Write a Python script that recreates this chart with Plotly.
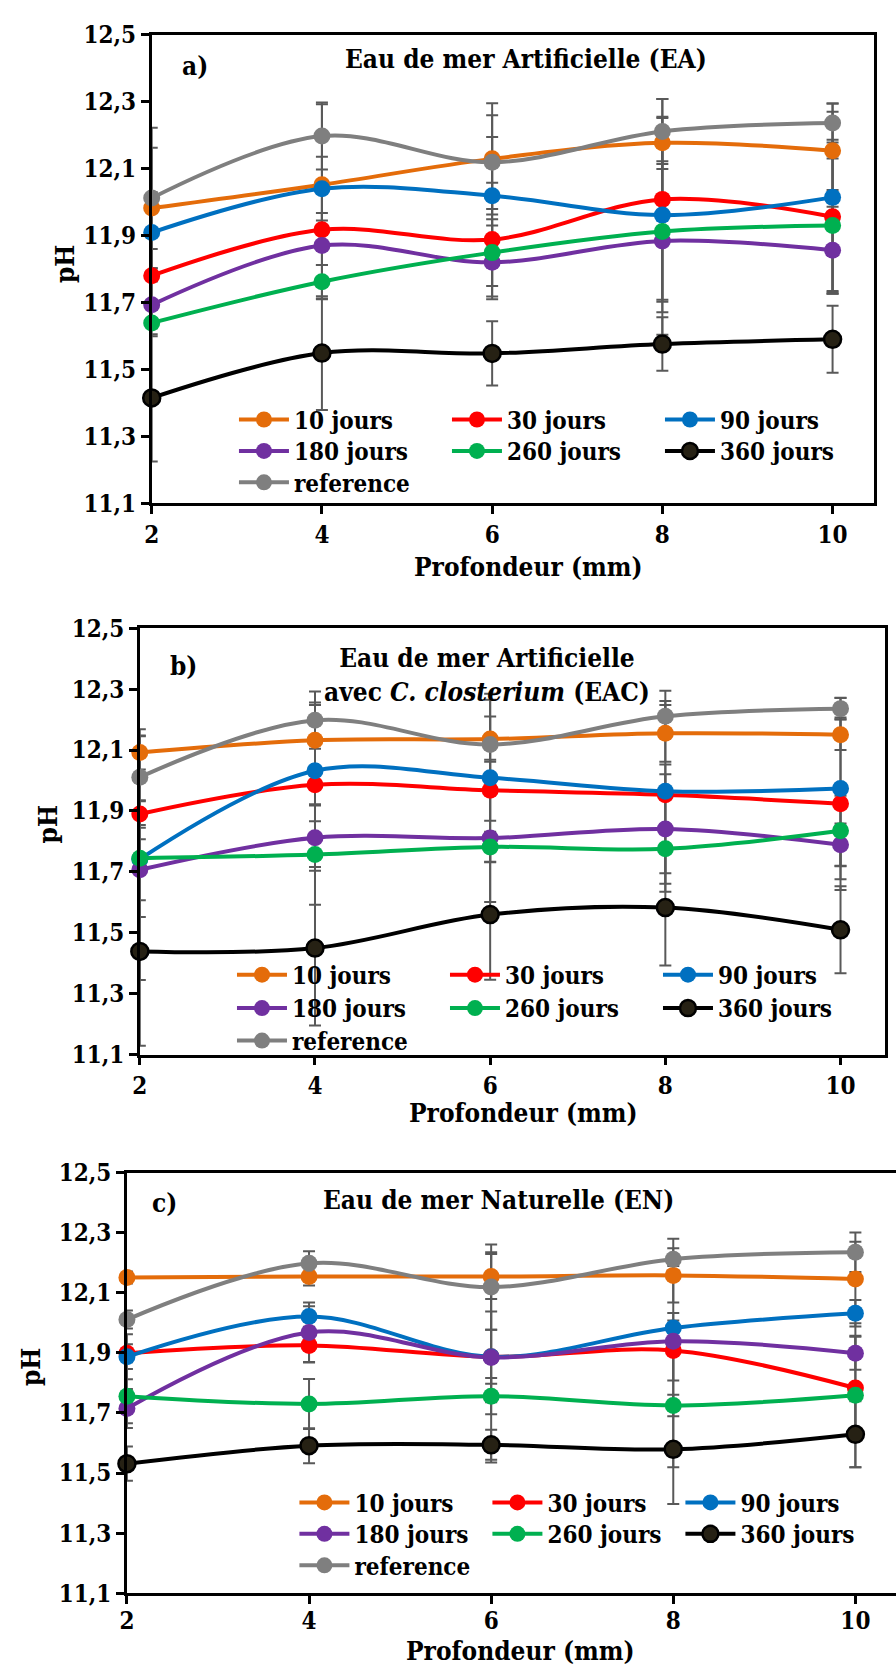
import plotly.graph_objects as go

# ---------------- data ----------------
depth = [2, 4, 6, 8, 10]
series_names = ["10 jours", "30 jours", "90 jours", "180 jours", "260 jours", "360 jours", "reference"]
series_colors = ["#E46C0A", "#FF0000", "#0070C0", "#7030A0", "#00B050", "#000000", "#7F7F7F"]

y_tickvals = [11.1, 11.3, 11.5, 11.7, 11.9, 12.1, 12.3, 12.5]
y_ticktext = ["11,1", "11,3", "11,5", "11,7", "11,9", "12,1", "12,3", "12,5"]
x_tickvals = [2, 4, 6, 8, 10]
x_ticktext = ["2", "4", "6", "8", "10"]

# Panel a) Eau de mer Artificielle (EA)
ph_ea = {
    "10 jours": [11.982, 12.052, 12.129, 12.177, 12.153],
    "30 jours": [11.780, 11.917, 11.888, 12.008, 11.956],
    "90 jours": [11.909, 12.040, 12.019, 11.961, 12.014],
    "180 jours": [11.693, 11.870, 11.820, 11.884, 11.856],
    "260 jours": [11.639, 11.762, 11.849, 11.912, 11.930],
    "360 jours": [11.415, 11.549, 11.548, 11.576, 11.590],
    "reference": [12.012, 12.197, 12.119, 12.211, 12.236],
}
err_ea = {
    "10 jours": [0.18, 0.24, 0.166, 0.078, 0.117],
    "30 jours": [0.08, 0.05, 0.17, 0.30, 0.23],
    "90 jours": [0.12, 0.095, 0.175, 0.29, 0.28],
    "180 jours": [0.07, 0.16, 0.11, 0.28, 0.13],
    "260 jours": [0.04, 0.05, 0.10, 0.21, 0.20],
    "360 jours": [0.19, 0.17, 0.096, 0.08, 0.10],
    "reference": [0.21, 0.10, 0.14, 0.097, 0.058],
}

# Panel b) Eau de mer Artificielle avec C. closterium (EAC)
ph_eac = {
    "10 jours": [12.092, 12.132, 12.136, 12.155, 12.150],
    "30 jours": [11.890, 11.986, 11.968, 11.953, 11.924],
    "90 jours": [11.742, 12.032, 12.009, 11.965, 11.974],
    "180 jours": [11.707, 11.812, 11.811, 11.841, 11.789],
    "260 jours": [11.745, 11.757, 11.782, 11.776, 11.835],
    "360 jours": [11.439, 11.450, 11.560, 11.583, 11.510],
    "reference": [12.011, 12.198, 12.118, 12.211, 12.236],
}
err_eac = {
    "10 jours": [0.056, 0.116, 0.074, 0.093, 0.05],
    "30 jours": [0.045, 0.27, 0.10, 0.10, 0.283],
    "90 jours": [0.19, 0.114, 0.276, 0.33, 0.298],
    "180 jours": [0.10, 0.054, 0.21, 0.18, 0.07],
    "260 jours": [0.40, 0.165, 0.05, 0.08, 0.115],
    "360 jours": [0.31, 0.254, 0.214, 0.19, 0.143],
    "reference": [0.157, 0.094, 0.147, 0.05, 0.035],
}

# Panel c) Eau de mer Naturelle (EN)
ph_en = {
    "10 jours": [12.151, 12.154, 12.154, 12.158, 12.146],
    "30 jours": [11.899, 11.925, 11.887, 11.908, 11.783],
    "90 jours": [11.887, 12.021, 11.887, 11.983, 12.032],
    "180 jours": [11.715, 11.968, 11.885, 11.939, 11.899],
    "260 jours": [11.756, 11.730, 11.756, 11.725, 11.759],
    "360 jours": [11.531, 11.591, 11.594, 11.579, 11.629],
    "reference": [12.011, 12.198, 12.119, 12.212, 12.235],
}
err_en = {
    "10 jours": [0.02, 0.03, 0.075, 0.09, 0.124],
    "30 jours": [0.03, 0.055, 0.151, 0.10, 0.174],
    "90 jours": [0.075, 0.034, 0.09, 0.05, 0.044],
    "180 jours": [0.065, 0.10, 0.35, 0.25, 0.055],
    "260 jours": [0.09, 0.083, 0.06, 0.206, 0.24],
    "360 jours": [0.057, 0.058, 0.05, 0.182, 0.11],
    "reference": [0.03, 0.04, 0.142, 0.068, 0.066],
}

panel_letters = ["a)", "b)", "c)"]
panel_titles = [
    "Eau de mer Artificielle (EA)",
    "Eau de mer Artificielle<br>avec <i>C. closterium</i> (EAC)",
    "Eau de mer Naturelle (EN)",
]
x_title = "Profondeur (mm)"
y_title = "pH"

# ---------------- layout geometry (pixels) ----------------
W, H = 896, 1677
FONT = "DejaVu Serif Condensed, DejaVu Serif, serif"

panels = [
    dict(ph=ph_ea, err=err_ea, left=145, right=874, top=20, bottom=497, xmax=10.489,
         letter=(189, 52), title=(523, 45), xt=(525, 562), yt=(57, 253), stand=0,
         rows=[412, 444, 476], cols=[236, 450, 663], ew=148),
    dict(ph=ph_eac, err=err_eac, left=133, right=885, top=624, bottom=1058, xmax=10.509,
         letter=(177, 662), title=(483, 672), xt=(520, 1117), yt=(40, 824), stand=0,
         rows=[977, 1011, 1044], cols=[234, 449, 663], ew=148),
    dict(ph=ph_en, err=err_en, left=120, right=896, top=1178, bottom=1606, xmax=10.446,
         letter=(158, 1209), title=(495, 1206), xt=(517, 1665), yt=(23, 1376), stand=-4,
         rows=[1514, 1546, 1578], cols=[297, 490, 683], ew=128),
]


def px_x(v):
    return v / W


def px_y(v):
    return 1 - v / H


fig = go.Figure()
layout = dict(
    width=W, height=H,
    margin=dict(l=0, r=0, t=0, b=0),
    paper_bgcolor="white", plot_bgcolor="white",
    separators=", ",
    showlegend=True,
    font=dict(family=FONT, size=24, color="black", weight="bold"),
    annotations=[],
)

for p, P in enumerate(panels):
    sfx = "" if p == 0 else str(p + 1)
    xa, ya = "x" + sfx, "y" + sfx
    layout["xaxis" + sfx] = dict(
        domain=[px_x(P["left"]), min(1.0, px_x(P["right"]))],
        range=[2, P["xmax"]], anchor=ya,
        tickvals=x_tickvals, ticktext=x_ticktext,
        ticks="outside", ticklen=8, tickwidth=2.5, tickcolor="black",
        showline=True, linecolor="black", linewidth=2.5, mirror=True,
        showgrid=False, zeroline=False, ticklabelstandoff=P["stand"],
        tickfont=dict(family=FONT, size=24, color="black", weight="bold"),
    )
    layout["yaxis" + sfx] = dict(
        domain=[px_y(P["bottom"]), px_y(P["top"])],
        range=[11.1, 12.5], anchor=xa,
        tickvals=y_tickvals, ticktext=y_ticktext,
        ticks="outside", ticklen=8, tickwidth=2.5, tickcolor="black",
        showline=True, linecolor="black", linewidth=2.5, mirror=(p != 2),
        showgrid=False, zeroline=False,
        tickfont=dict(family=FONT, size=24, color="black", weight="bold"),
    )

    # error bars first (behind lines and markers)
    for name in series_names:
        fig.add_trace(go.Scatter(
            x=depth, y=P["ph"][name], xaxis=xa, yaxis=ya,
            mode="markers", marker=dict(size=17, opacity=0),
            error_y=dict(type="data", array=P["err"][name], visible=True,
                         color="#595959", thickness=2, width=6),
            showlegend=False, hoverinfo="skip", cliponaxis=False,
        ))

    for i, name in enumerate(series_names):
        k = p * 3 + i // 3
        leg = "legend" + ("" if k == 0 else str(k + 1))
        col = series_colors[i]
        if name == "360 jours":
            mk = dict(size=17, color="#262114", line=dict(color="black", width=2.5))
        else:
            mk = dict(size=17, color=col, line=dict(color=col, width=0))
        fig.add_trace(go.Scatter(
            x=depth, y=P["ph"][name], xaxis=xa, yaxis=ya,
            mode="lines+markers", name=name,
            line=dict(color=col, width=4, shape="spline", smoothing=1),
            marker=mk, legend=leg, cliponaxis=False,
        ))

    for r in range(3):
        k = p * 3 + r
        lname = "legend" + ("" if k == 0 else str(k + 1))
        layout[lname] = dict(
            orientation="h", x=px_x(P["cols"][0] - 8), xanchor="left",
            y=px_y(P["rows"][r]), yanchor="middle",
            entrywidth=P["ew"], entrywidthmode="pixels", itemwidth=50,
            bgcolor="rgba(0,0,0,0)", borderwidth=0, tracegroupgap=0,
            font=dict(family=FONT, size=24, color="black", weight="bold"),
        )

    ann = layout["annotations"]
    ann.append(dict(text=panel_letters[p], x=px_x(P["letter"][0]), y=px_y(P["letter"][1]),
                    xref="paper", yref="paper", showarrow=False, xanchor="center", yanchor="middle",
                    font=dict(family=FONT, size=26, color="black", weight="bold")))
    ann.append(dict(text=panel_titles[p], x=px_x(P["title"][0]), y=px_y(P["title"][1]),
                    xref="paper", yref="paper", showarrow=False, xanchor="center", yanchor="middle",
                    align="center",
                    font=dict(family=FONT, size=26, color="black", weight="bold")))
    ann.append(dict(text=x_title, x=px_x(P["xt"][0]), y=px_y(P["xt"][1]),
                    xref="paper", yref="paper", showarrow=False, xanchor="center", yanchor="middle",
                    font=dict(family=FONT, size=26, color="black", weight="bold")))
    ann.append(dict(text=y_title, x=px_x(P["yt"][0]), y=px_y(P["yt"][1]), textangle=-90,
                    xref="paper", yref="paper", showarrow=False, xanchor="center", yanchor="middle",
                    font=dict(family=FONT, size=26, color="black", weight="bold")))

fig.update_layout(**layout)
fig.write_html("out.html", config={"displayModeBar": False},
               post_script="document.body.style.margin='0px';document.body.style.overflow='hidden';")
